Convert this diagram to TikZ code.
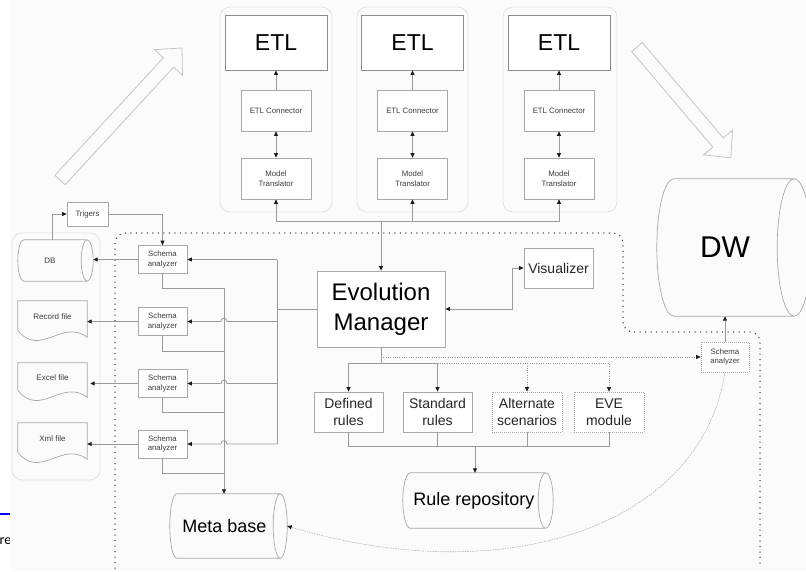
\documentclass[tikz,border=0pt]{standalone}
\usepackage{fontspec}
\setmainfont{Liberation Sans}
\newfontfamily\capfnt{Carlito}
\usetikzlibrary{arrows.meta,calc}

\definecolor{linec}{HTML}{9A9A9A}
\definecolor{edgec}{HTML}{A8A8A8}
\definecolor{etledge}{HTML}{8C8C8C}
\definecolor{panelc}{HTML}{E2E2E2}
\definecolor{hollowc}{HTML}{C4C4C4}
\definecolor{tipc}{HTML}{1C1C1C}
\definecolor{smalltxt}{HTML}{3C3C3C}
\definecolor{bgc}{HTML}{FBFBFB}
\definecolor{dotc}{HTML}{404040}
\definecolor{curvec}{HTML}{B4B4B4}

% outline of a lying cylinder around a node: #1 node, #2 radius of the end ellipses
\newcommand\cylinderoutline[2]{%
  \draw[edgeline] let \p1=(#1.north west), \p2=(#1.south east), \n1={(\y1-\y2)/2} in
    (\x1+#2,\y1) arc[start angle=90,end angle=270,x radius=#2,y radius={\n1*1pt}]
    -- (\x2-#2,\y2) arc[start angle=-90,end angle=90,x radius=#2,y radius={\n1*1pt}] -- cycle
    (\x2-#2,\y1) arc[start angle=90,end angle=270,x radius=#2,y radius={\n1*1pt}];}

% outline of a document (wavy lower edge) around a node
\newcommand\documentoutline[1]{%
  \draw[edgeline] let \p1=(#1.north west), \p2=(#1.south east) in
    (\x1,\y1) -- (\x2,\y1) -- (\x2,\y2+6pt)
    .. controls (\x2-25pt,\y2+25pt) and (\x1+22pt,\y2-15pt) .. (\x1,\y2+13pt) -- cycle;}

\tikzset{
  edgeline/.style={draw=edgec, line width=0.7pt},
  conn/.style={draw=linec, line width=0.8pt},
  tipend/.style={conn, -{Triangle[length=4.5pt,width=4pt,color=tipc]}},
  tipboth/.style={conn, {Triangle[length=4.5pt,width=4pt,color=tipc]}-{Triangle[length=4.5pt,width=4pt,color=tipc]}},
  dotconn/.style={draw=linec, line width=0.7pt, dash pattern=on 1pt off 1.3pt,
    -{Triangle[length=4.5pt,width=4pt,color=tipc]}},
  bigdots/.style={draw=dotc, line width=1.5pt, line cap=round, dash pattern=on 0pt off 5.5pt},
  hollow/.style={draw=hollowc, line width=0.8pt, line join=miter},
  panelbox/.style={draw=panelc, line width=0.8pt, rounded corners=10pt, inner sep=0pt},
  etlbox/.style={draw=etledge, line width=0.8pt, fill=white, minimum width=102pt,
    minimum height=55pt, inner sep=0pt, font=\fontsize{23}{27}\selectfont},
  subbox/.style={draw=edgec, line width=0.7pt, fill=white, minimum width=70pt,
    minimum height=41pt, inner sep=0pt, align=center, text=smalltxt,
    font=\fontsize{7.8}{9.5}\selectfont},
  anabox/.style={draw=edgec, line width=0.7pt, fill=white, minimum width=49pt,
    minimum height=28pt, inner sep=0pt, align=center, text=smalltxt,
    font=\fontsize{7.8}{9.3}\selectfont},
  rulebox/.style={draw=edgec, line width=0.8pt, fill=white, minimum width=69pt,
    minimum height=40pt, inner sep=0pt, align=center, text=black!85,
    font=\fontsize{14}{17}\selectfont},
  dotrule/.style={rulebox, dash pattern=on 1pt off 1pt},
  shapeholder/.style={rectangle, inner sep=0pt, align=center},
  doctxt/.style={inner sep=0pt, text=smalltxt, font=\fontsize{8}{9.5}\selectfont},
}

\begin{document}
\begin{tikzpicture}[x=1pt,y=-1pt]
\useasboundingbox (0,0) rectangle (806,571);
\fill[white] (0,0) rectangle (806,571);

% fragment of the surrounding page
\node[font=\capfnt\fontsize{14}{16}\selectfont, anchor=base east, inner sep=0pt] (capfrag) at (11.5,544) {re};
\draw[blue, line width=2.5pt] (0,514) -- (10,514);
\fill[bgc] (10,0) rectangle (806,571);

% group panels
\node[panelbox, minimum width=112pt, minimum height=205pt] (pan1) at (276,109.5) {};
\node[panelbox, minimum width=111pt, minimum height=205pt] (pan2) at (412.5,109.5) {};
\node[panelbox, minimum width=114pt, minimum height=205pt] (pan3) at (560,109.5) {};
\node[panelbox, minimum width=88pt, minimum height=247pt] (srcpan) at (56,356.5) {};

% hollow flow arrows
\draw[hollow] (54.9,175.3) -- (163.4,57.8) -- (154.5,49.6) -- (182,48) -- (182.5,75.4)
  -- (173.6,67.2) -- (65.1,184.7) -- cycle;
\draw[hollow] (642.3,42.5) -- (723.3,138) -- (732.5,130.2) -- (730.9,157.8) -- (703.5,154.8)
  -- (712.7,147) -- (631.7,51.5) -- cycle;

% system boundary
\draw[bigdots, rounded corners=10pt] (115,568) -- (115,233) -- (623,233) -- (623,332)
  -- (760,332) -- (760,565);

% ETL columns
\node[etlbox] (etl1) at (276,42.5) {ETL};
\node[etlbox] (etl2) at (412.5,42.5) {ETL};
\node[etlbox] (etl3) at (559,42.5) {ETL};
\node[subbox] (con1) at (276,110.5) {ETL Connector};
\node[subbox] (con2) at (412.5,110.5) {ETL Connector};
\node[subbox] (con3) at (559,110.5) {ETL Connector};
\node[subbox] (mt1) at (276,178.5) {Model\\Translator};
\node[subbox] (mt2) at (412.5,178.5) {Model\\Translator};
\node[subbox] (mt3) at (559,178.5) {Model\\Translator};

% core
\node[draw=edgec, line width=0.8pt, fill=white, minimum width=128pt, minimum height=76pt,
  inner sep=0pt, align=center, font=\fontsize{24}{30}\selectfont] (em) at (381,309)
  {Evolution\\Manager};
\node[rulebox, minimum height=40pt] (vis) at (558.5,268) {Visualizer};
\node[rulebox] (def) at (348.5,412) {Defined\\rules};
\node[rulebox] (std) at (437.5,412) {Standard\\rules};
\node[dotrule, minimum width=70pt] (alt) at (527,412) {Alternate\\scenarios};
\node[dotrule, minimum width=70pt] (eve) at (609,412) {EVE\\module};

% stores
\node[shapeholder, minimum width=150pt, minimum height=55pt, font=\fontsize{18}{20}\selectfont]
  (rr) at (478,500.5) {\hspace*{-8pt}Rule repository};
\cylinderoutline{rr}{7.5pt}
\node[shapeholder, minimum width=117pt, minimum height=64pt, font=\fontsize{18}{20}\selectfont]
  (meta) at (228.5,526) {\hspace*{-8pt}Meta base};
\cylinderoutline{meta}{7pt}
\node[shapeholder, minimum width=154pt, minimum height=137pt, font=\fontsize{30}{32}\selectfont]
  (dw) at (734,247.5) {\hspace*{-18pt}DW};
\cylinderoutline{dw}{17pt}

% sources
\node[shapeholder, minimum width=75pt, minimum height=41pt, text=smalltxt,
  font=\fontsize{8}{9}\selectfont] (db) at (55.5,260.5) {\hspace*{-11pt}DB};
\cylinderoutline{db}{6pt}
\node[shapeholder, minimum width=69pt, minimum height=42pt] (rec) at (52.5,322) {};
\documentoutline{rec}
\node[doctxt] (rectxt) at ($(rec.north)+(0,16)$) {Record file};
\node[shapeholder, minimum width=69pt, minimum height=40pt] (xls) at (52.5,383) {};
\documentoutline{xls}
\node[doctxt] (xlstxt) at ($(xls.north)+(0,15)$) {Excel file};
\node[shapeholder, minimum width=69pt, minimum height=42pt] (xml) at (52.5,444) {};
\documentoutline{xml}
\node[doctxt] (xmltxt) at ($(xml.north)+(0,16)$) {Xml file};

\node[anabox, minimum width=41pt, minimum height=24pt] (trig) at (87.5,214) {Trigers};
\node[anabox] (sa1) at (162.5,259.5) {Schema\\analyzer};
\node[anabox] (sa2) at (162.5,321.5) {Schema\\analyzer};
\node[anabox] (sa3) at (162.5,383.5) {Schema\\analyzer};
\node[anabox] (sa4) at (162.5,444) {Schema\\analyzer};
\node[anabox, minimum width=48pt, minimum height=30pt, dash pattern=on 1pt off 1pt]
  (sa5) at (725,357) {Schema\\analyzer};

% ETL column links
\foreach \i in {1,2,3} {
  \draw[tipend] (con\i.north) -- (etl\i.south);
  \draw[tipboth] (con\i.south) -- (mt\i.north);
}
\coordinate (hub) at (381,221);
\draw[tipend] (hub) -| (mt1.south);
\draw[tipend] (hub) -| (mt2.south);
\draw[tipend] (hub) -| (mt3.south);
\draw[tipend] (hub) -- (em.north);

% visualizer
\coordinate (visbend) at (512,309);
\draw[tipboth] (em.east) -- (visbend) |- (vis.west);

% rules
\coordinate (rulehub) at (381,363);
\coordinate (stdhub) at (437.5,363);
\coordinate (dwtap) at (381,357);
\draw[conn] (em.south) -- (rulehub);
\draw[tipend] (rulehub) -| (def.north);
\draw[tipend] (rulehub) -| (std.north);
\draw[dotconn] (stdhub) -| (alt.north);
\draw[dotconn] (stdhub) -| (eve.north);
\draw[dotconn] (dwtap) -- (sa5.west);
\draw[tipend] (sa5.north) -- (sa5.north |- dw.south);

\coordinate (repohub) at (475,446);
\draw[conn] (def.south) |- (repohub);
\draw[conn] (eve.south) |- (repohub);
\draw[conn] (std.south) -- (std.south |- repohub);
\draw[conn] (alt.south) -- (alt.south |- repohub);
\draw[tipend] (repohub) -- (repohub |- rr.north);

% warehouse analyzer back to the meta base
\draw[draw=curvec, line width=0.6pt, dash pattern=on 1.5pt off 1pt,
  -{Triangle[length=4.5pt,width=4pt,color=tipc]}]
  (sa5.south) .. controls (700,530) and (500,590) .. (meta.east);

% sources side
\draw[tipend] ($(db.north)+(-3.5,0)$) |- (trig.west);
\draw[tipend] (trig.east) -| (sa1.north);
\draw[tipend] (sa1.west) -- (sa1.west -| db.east);
\draw[tipend] (sa2.west) -- (sa2.west -| rec.east);
\draw[tipend] (sa3.west) -- ($(sa3.west -| xls.east)+(3,0)$);
\draw[tipend] (sa4.west) -- (sa4.west -| xml.east);

\coordinate (mb1) at (224,288);
\coordinate (mb2) at (224,351);
\coordinate (mb3) at (224,412);
\coordinate (mb4) at (224,473);
\draw[conn] (sa1.south) |- (mb1);
\draw[conn] (sa2.south) |- (mb2);
\draw[conn] (sa3.south) |- (mb3);
\draw[conn] (sa4.south) |- (mb4);
\draw[tipend] (mb1) -- (mb1 |- meta.north);

\coordinate (embus) at (277,309);
\coordinate (eb1) at (277,259.5);
\coordinate (eb2) at (277,321.5);
\coordinate (eb3) at (277,383.5);
\coordinate (eb4) at (277,444);
\draw[conn] (em.west) -- (embus);
\draw[conn] (eb1) -- (eb4);
\draw[tipend] (eb1) -- (sa1.east);
\foreach \k in {2,3,4} {
  \draw[tipend] (eb\k) -- ($(eb\k -| mb1)+(3,0)$)
    .. controls +(0,-4.5) and +(0,-4.5) .. ($(eb\k -| mb1)+(-3,0)$) -- (sa\k.east);
}
\end{tikzpicture}
\end{document}
